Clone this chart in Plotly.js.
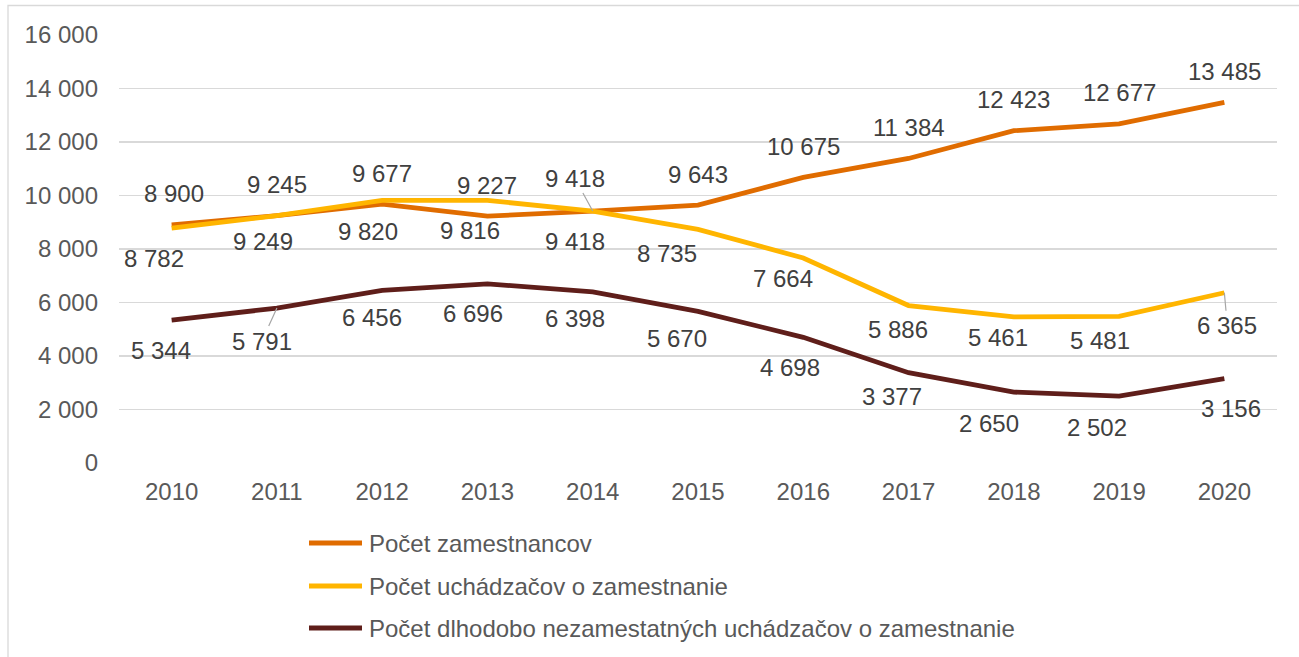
<!DOCTYPE html>
<html>
<head>
<meta charset="utf-8">
<script src="https://cdn.plot.ly/plotly-3.0.1.min.js"></script>
<style>
html,body{margin:0;padding:0;background:#fff;}
#chart{width:1299px;height:657px;}
</style>
</head>
<body>
<div id="chart"></div>
<script>
// ---- data ----
var years = ['2010','2011','2012','2013','2014','2015','2016','2017','2018','2019','2020'];
var zamestnanci = [8900, 9245, 9677, 9227, 9418, 9643, 10675, 11384, 12423, 12677, 13485];
var uchadzaci = [8782, 9249, 9820, 9816, 9418, 8735, 7664, 5886, 5461, 5481, 6365];
var dlhodobi = [5344, 5791, 6456, 6696, 6398, 5670, 4698, 3377, 2650, 2502, 3156];
var seriesNames = ['Počet zamestnancov', 'Počet uchádzačov o zamestnanie', 'Počet dlhodobo nezamestatných uchádzačov o zamestnanie'];
var yTicks = [0, 2000, 4000, 6000, 8000, 10000, 12000, 14000, 16000];

// ---- styles ----
var colors = ['#E06C00', '#FFB500', '#5F1E1A'];
var FONT = '"Liberation Sans", Arial, sans-serif';
var FS = 24;
var W = 1299, H = 657, ML = 119, MR = 22, MT = 35, MB = 194;
var PW = W - ML - MR, PH = H - MT - MB;
function px(x){ return (x - ML) / PW; }
function py(y){ return (H - MB - y) / PH; }
function fmt(v){ return String(v).replace(/\B(?=(\d{3})+(?!\d))/g, ' '); }

// label offsets (pixels, relative to the point): [dx, dy, leader]
var offZ = [[2,-31],[0,-31],[0,-31],[0,-31],[-18,-33,1],[0,-31],[0,-31],[0,-31],[0,-31],[0,-31],[0,-31]];
var offU = [[-18,30],[-14,26],[-14,31],[-17,30],[-18,30],[-31,24],[-20,21],[-11,24],[-16,21],[-19,24],[3,33,1]];
var offD = [[-11,30],[-15,33,1],[-10,27],[-14,30],[-18,27],[-21,27],[-13,30],[-17,24],[-25,31],[-22,31],[7,30]];

var allSeries = [zamestnanci, uchadzaci, dlhodobi];
var allOff = [offZ, offU, offD];

var traces = allSeries.map(function(s, i){
  return {
    x: years, y: s, type: 'scatter', mode: 'lines', name: seriesNames[i],
    line: {color: colors[i], width: 4.8}, hoverinfo: 'x+y', showlegend: false
  };
});

var annotations = [];
allSeries.forEach(function(s, i){
  s.forEach(function(v, j){
    var o = allOff[i][j];
    var a = {
      x: j, y: v, xref: 'x', yref: 'y', text: fmt(v),
      font: {family: FONT, size: FS, color: '#404040'},
      xanchor: 'center', yanchor: 'middle'
    };
    if (o[2]) {
      a.showarrow = true; a.arrowhead = 0; a.arrowwidth = 1.2; a.arrowcolor = '#A6A6A6';
      a.ax = o[0]; a.ay = o[1]; a.standoff = 0;
    } else {
      a.showarrow = false; a.xshift = o[0]; a.yshift = -o[1];
    }
    annotations.push(a);
  });
});

// custom legend
var legendY = [543, 586, 628];
var shapes = [{
  type: 'rect', xref: 'paper', yref: 'paper',
  x0: px(8), x1: px(1310), y0: py(670), y1: py(5.5),
  line: {color: '#D9D9D9', width: 1.3}, fillcolor: 'rgba(0,0,0,0)', layer: 'below'
}];
seriesNames.forEach(function(n, i){
  shapes.push({type: 'line', xref: 'paper', yref: 'paper',
    x0: px(309), x1: px(362), y0: py(legendY[i]), y1: py(legendY[i]),
    line: {color: colors[i], width: 4.8}});
  annotations.push({xref: 'paper', yref: 'paper', x: px(367), y: py(legendY[i]),
    xanchor: 'left', yanchor: 'middle', showarrow: false, text: n,
    font: {family: FONT, size: FS, color: '#595959'}});
});

var layout = {
  width: W, height: H,
  margin: {l: ML, r: MR, t: MT, b: MB, pad: 0},
  paper_bgcolor: '#ffffff', plot_bgcolor: '#ffffff',
  separators: ', ',
  font: {family: FONT, size: FS, color: '#595959'},
  showlegend: false,
  xaxis: {
    type: 'category', range: [-0.5, 10.5], showgrid: false, zeroline: false,
    showline: false, ticks: '', ticklabelstandoff: 12,
    tickfont: {family: FONT, size: FS, color: '#595959'}, fixedrange: true
  },
  yaxis: {
    range: [0, 16000], tickvals: yTicks, ticktext: yTicks.map(fmt),
    showgrid: true, gridcolor: '#D9D9D9', gridwidth: 1.3,
    zeroline: false, showline: false, ticks: '', ticklabelstandoff: 20,
    tickfont: {family: FONT, size: FS, color: '#595959'}, fixedrange: true
  },
  shapes: shapes,
  annotations: annotations
};

Plotly.newPlot('chart', traces, layout, {displayModeBar: false, staticPlot: true});
</script>
</body>
</html>
